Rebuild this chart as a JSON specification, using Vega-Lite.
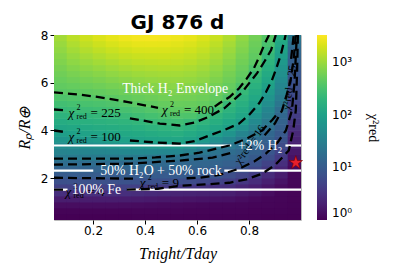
{
"$schema":"https://vega.github.io/schema/vega-lite/v6.json",
"width":247,"height":185,
"padding":{"left":16,"top":13,"right":5,"bottom":5},
"title":{"text":"GJ 876 d","font":"DejaVu Sans","fontSize":20,"fontWeight":"bold","color":"black","offset":-4},
"config":{"view":{"stroke":"#bbbbbb"},
"axis":{"labelFont":"DejaVu Sans","labelFontSize":12,"labelColor":"black","tickColor":"black","tickSize":4,"domain":false,"grid":false,"titleFont":"Liberation Serif","titleFontSize":16,"titleFontStyle":"italic","titleFontWeight":"normal","titleColor":"black"},
"axisX":{"labelPadding":1,"titlePadding":9},"axisY":{"titlePadding":8}},
"datasets":{
"grid":[
{"x":0.075,"y":0.375,"v":1.0},{"x":0.075,"y":0.625,"v":1.07},{"x":0.075,"y":0.875,"v":1.29},{"x":0.075,"y":1.125,"v":1.84},{"x":0.075,"y":1.375,"v":2.93},{"x":0.075,"y":1.625,"v":4.74},{"x":0.075,"y":1.875,"v":7.1},{"x":0.075,"y":2.125,"v":10},{"x":0.075,"y":2.375,"v":13},{"x":0.075,"y":2.625,"v":17.7},{"x":0.075,"y":2.875,"v":26.7},{"x":0.075,"y":3.125,"v":36},{"x":0.075,"y":3.375,"v":49},{"x":0.075,"y":3.625,"v":66},{"x":0.075,"y":3.875,"v":90},{"x":0.075,"y":4.125,"v":116},{"x":0.075,"y":4.375,"v":146},{"x":0.075,"y":4.625,"v":183},{"x":0.075,"y":4.875,"v":230},{"x":0.075,"y":5.125,"v":280},{"x":0.075,"y":5.375,"v":342},{"x":0.075,"y":5.625,"v":409},{"x":0.075,"y":5.875,"v":455},{"x":0.075,"y":6.125,"v":506},{"x":0.075,"y":6.375,"v":562},{"x":0.075,"y":6.625,"v":626},{"x":0.075,"y":6.875,"v":696},{"x":0.075,"y":7.125,"v":774},{"x":0.075,"y":7.375,"v":861},{"x":0.075,"y":7.625,"v":957},{"x":0.075,"y":7.875,"v":1065},
{"x":0.125,"y":0.375,"v":1.0},{"x":0.125,"y":0.625,"v":1.07},{"x":0.125,"y":0.875,"v":1.29},{"x":0.125,"y":1.125,"v":1.84},{"x":0.125,"y":1.375,"v":2.93},{"x":0.125,"y":1.625,"v":4.75},{"x":0.125,"y":1.875,"v":7.2},{"x":0.125,"y":2.125,"v":10.1},{"x":0.125,"y":2.375,"v":13},{"x":0.125,"y":2.625,"v":17.4},{"x":0.125,"y":2.875,"v":26.9},{"x":0.125,"y":3.125,"v":37},{"x":0.125,"y":3.375,"v":51},{"x":0.125,"y":3.625,"v":71},{"x":0.125,"y":3.875,"v":98},{"x":0.125,"y":4.125,"v":124},{"x":0.125,"y":4.375,"v":156},{"x":0.125,"y":4.625,"v":195},{"x":0.125,"y":4.875,"v":243},{"x":0.125,"y":5.125,"v":295},{"x":0.125,"y":5.375,"v":360},{"x":0.125,"y":5.625,"v":425},{"x":0.125,"y":5.875,"v":486},{"x":0.125,"y":6.125,"v":556},{"x":0.125,"y":6.375,"v":635},{"x":0.125,"y":6.625,"v":726},{"x":0.125,"y":6.875,"v":830},{"x":0.125,"y":7.125,"v":948},{"x":0.125,"y":7.375,"v":1084},{"x":0.125,"y":7.625,"v":1239},{"x":0.125,"y":7.875,"v":1416},
{"x":0.175,"y":0.375,"v":1.0},{"x":0.175,"y":0.625,"v":1.07},{"x":0.175,"y":0.875,"v":1.29},{"x":0.175,"y":1.125,"v":1.84},{"x":0.175,"y":1.375,"v":2.93},{"x":0.175,"y":1.625,"v":4.75},{"x":0.175,"y":1.875,"v":7.2},{"x":0.175,"y":2.125,"v":10.1},{"x":0.175,"y":2.375,"v":13},{"x":0.175,"y":2.625,"v":17.4},{"x":0.175,"y":2.875,"v":27},{"x":0.175,"y":3.125,"v":38},{"x":0.175,"y":3.375,"v":54},{"x":0.175,"y":3.625,"v":76},{"x":0.175,"y":3.875,"v":105},{"x":0.175,"y":4.125,"v":132},{"x":0.175,"y":4.375,"v":165},{"x":0.175,"y":4.625,"v":206},{"x":0.175,"y":4.875,"v":254},{"x":0.175,"y":5.125,"v":310},{"x":0.175,"y":5.375,"v":377},{"x":0.175,"y":5.625,"v":445},{"x":0.175,"y":5.875,"v":519},{"x":0.175,"y":6.125,"v":604},{"x":0.175,"y":6.375,"v":705},{"x":0.175,"y":6.625,"v":821},{"x":0.175,"y":6.875,"v":957},{"x":0.175,"y":7.125,"v":1115},{"x":0.175,"y":7.375,"v":1300},{"x":0.175,"y":7.625,"v":1514},{"x":0.175,"y":7.875,"v":1766},
{"x":0.225,"y":0.375,"v":1.0},{"x":0.225,"y":0.625,"v":1.07},{"x":0.225,"y":0.875,"v":1.29},{"x":0.225,"y":1.125,"v":1.84},{"x":0.225,"y":1.375,"v":2.93},{"x":0.225,"y":1.625,"v":4.8},{"x":0.225,"y":1.875,"v":7.3},{"x":0.225,"y":2.125,"v":10.2},{"x":0.225,"y":2.375,"v":13},{"x":0.225,"y":2.625,"v":17.1},{"x":0.225,"y":2.875,"v":27},{"x":0.225,"y":3.125,"v":39},{"x":0.225,"y":3.375,"v":57},{"x":0.225,"y":3.625,"v":83},{"x":0.225,"y":3.875,"v":112},{"x":0.225,"y":4.125,"v":140},{"x":0.225,"y":4.375,"v":175},{"x":0.225,"y":4.625,"v":218},{"x":0.225,"y":4.875,"v":267},{"x":0.225,"y":5.125,"v":324},{"x":0.225,"y":5.375,"v":395},{"x":0.225,"y":5.625,"v":468},{"x":0.225,"y":5.875,"v":553},{"x":0.225,"y":6.125,"v":653},{"x":0.225,"y":6.375,"v":773},{"x":0.225,"y":6.625,"v":914},{"x":0.225,"y":6.875,"v":1080},{"x":0.225,"y":7.125,"v":1276},{"x":0.225,"y":7.375,"v":1508},{"x":0.225,"y":7.625,"v":1782},{"x":0.225,"y":7.875,"v":2108},
{"x":0.275,"y":0.375,"v":1.0},{"x":0.275,"y":0.625,"v":1.07},{"x":0.275,"y":0.875,"v":1.29},{"x":0.275,"y":1.125,"v":1.84},{"x":0.275,"y":1.375,"v":2.93},{"x":0.275,"y":1.625,"v":4.8},{"x":0.275,"y":1.875,"v":7.3},{"x":0.275,"y":2.125,"v":10.2},{"x":0.275,"y":2.375,"v":13},{"x":0.275,"y":2.625,"v":16.8},{"x":0.275,"y":2.875,"v":27.3},{"x":0.275,"y":3.125,"v":41},{"x":0.275,"y":3.375,"v":61},{"x":0.275,"y":3.625,"v":92},{"x":0.275,"y":3.875,"v":119},{"x":0.275,"y":4.125,"v":148},{"x":0.275,"y":4.375,"v":184},{"x":0.275,"y":4.625,"v":230},{"x":0.275,"y":4.875,"v":283},{"x":0.275,"y":5.125,"v":349},{"x":0.275,"y":5.375,"v":424},{"x":0.275,"y":5.625,"v":505},{"x":0.275,"y":5.875,"v":601},{"x":0.275,"y":6.125,"v":715},{"x":0.275,"y":6.375,"v":851},{"x":0.275,"y":6.625,"v":1012},{"x":0.275,"y":6.875,"v":1204},{"x":0.275,"y":7.125,"v":1432},{"x":0.275,"y":7.375,"v":1703},{"x":0.275,"y":7.625,"v":2026},{"x":0.275,"y":7.875,"v":2410},
{"x":0.325,"y":0.375,"v":1.0},{"x":0.325,"y":0.625,"v":1.07},{"x":0.325,"y":0.875,"v":1.29},{"x":0.325,"y":1.125,"v":1.84},{"x":0.325,"y":1.375,"v":2.93},{"x":0.325,"y":1.625,"v":4.8},{"x":0.325,"y":1.875,"v":7.5},{"x":0.325,"y":2.125,"v":10.3},{"x":0.325,"y":2.375,"v":12.9},{"x":0.325,"y":2.625,"v":16.5},{"x":0.325,"y":2.875,"v":27.6},{"x":0.325,"y":3.125,"v":43},{"x":0.325,"y":3.375,"v":66},{"x":0.325,"y":3.625,"v":101},{"x":0.325,"y":3.875,"v":126},{"x":0.325,"y":4.125,"v":157},{"x":0.325,"y":4.375,"v":195},{"x":0.325,"y":4.625,"v":243},{"x":0.325,"y":4.875,"v":304},{"x":0.325,"y":5.125,"v":381},{"x":0.325,"y":5.375,"v":459},{"x":0.325,"y":5.625,"v":548},{"x":0.325,"y":5.875,"v":655},{"x":0.325,"y":6.125,"v":782},{"x":0.325,"y":6.375,"v":933},{"x":0.325,"y":6.625,"v":1114},{"x":0.325,"y":6.875,"v":1330},{"x":0.325,"y":7.125,"v":1588},{"x":0.325,"y":7.375,"v":1896},{"x":0.325,"y":7.625,"v":2263},{"x":0.325,"y":7.875,"v":2700},
{"x":0.375,"y":0.375,"v":1.03},{"x":0.375,"y":0.625,"v":1.09},{"x":0.375,"y":0.875,"v":1.26},{"x":0.375,"y":1.125,"v":1.78},{"x":0.375,"y":1.375,"v":2.78},{"x":0.375,"y":1.625,"v":4.6},{"x":0.375,"y":1.875,"v":7.4},{"x":0.375,"y":2.125,"v":10.2},{"x":0.375,"y":2.375,"v":12.8},{"x":0.375,"y":2.625,"v":15.9},{"x":0.375,"y":2.875,"v":26.8},{"x":0.375,"y":3.125,"v":43},{"x":0.375,"y":3.375,"v":70},{"x":0.375,"y":3.625,"v":106},{"x":0.375,"y":3.875,"v":133},{"x":0.375,"y":4.125,"v":167},{"x":0.375,"y":4.375,"v":210},{"x":0.375,"y":4.625,"v":265},{"x":0.375,"y":4.875,"v":334},{"x":0.375,"y":5.125,"v":416},{"x":0.375,"y":5.375,"v":496},{"x":0.375,"y":5.625,"v":592},{"x":0.375,"y":5.875,"v":706},{"x":0.375,"y":6.125,"v":842},{"x":0.375,"y":6.375,"v":1005},{"x":0.375,"y":6.625,"v":1199},{"x":0.375,"y":6.875,"v":1430},{"x":0.375,"y":7.125,"v":1706},{"x":0.375,"y":7.375,"v":2035},{"x":0.375,"y":7.625,"v":2427},{"x":0.375,"y":7.875,"v":2896},
{"x":0.425,"y":0.375,"v":1.03},{"x":0.425,"y":0.625,"v":1.08},{"x":0.425,"y":0.875,"v":1.23},{"x":0.425,"y":1.125,"v":1.7},{"x":0.425,"y":1.375,"v":2.59},{"x":0.425,"y":1.625,"v":4.3},{"x":0.425,"y":1.875,"v":7.2},{"x":0.425,"y":2.125,"v":10.2},{"x":0.425,"y":2.375,"v":12.6},{"x":0.425,"y":2.625,"v":15.5},{"x":0.425,"y":2.875,"v":25.3},{"x":0.425,"y":3.125,"v":43},{"x":0.425,"y":3.375,"v":72},{"x":0.425,"y":3.625,"v":110},{"x":0.425,"y":3.875,"v":142},{"x":0.425,"y":4.125,"v":183},{"x":0.425,"y":4.375,"v":234},{"x":0.425,"y":4.625,"v":294},{"x":0.425,"y":4.875,"v":370},{"x":0.425,"y":5.125,"v":448},{"x":0.425,"y":5.375,"v":531},{"x":0.425,"y":5.625,"v":629},{"x":0.425,"y":5.875,"v":745},{"x":0.425,"y":6.125,"v":883},{"x":0.425,"y":6.375,"v":1047},{"x":0.425,"y":6.625,"v":1240},{"x":0.425,"y":6.875,"v":1470},{"x":0.425,"y":7.125,"v":1743},{"x":0.425,"y":7.375,"v":2066},{"x":0.425,"y":7.625,"v":2449},{"x":0.425,"y":7.875,"v":2903},
{"x":0.475,"y":0.375,"v":1.03},{"x":0.475,"y":0.625,"v":1.08},{"x":0.475,"y":0.875,"v":1.2},{"x":0.475,"y":1.125,"v":1.63},{"x":0.475,"y":1.375,"v":2.42},{"x":0.475,"y":1.625,"v":3.98},{"x":0.475,"y":1.875,"v":6.95},{"x":0.475,"y":2.125,"v":10},{"x":0.475,"y":2.375,"v":12.3},{"x":0.475,"y":2.625,"v":15.1},{"x":0.475,"y":2.875,"v":23.2},{"x":0.475,"y":3.125,"v":42},{"x":0.475,"y":3.375,"v":76},{"x":0.475,"y":3.625,"v":115},{"x":0.475,"y":3.875,"v":151},{"x":0.475,"y":4.125,"v":197},{"x":0.475,"y":4.375,"v":255},{"x":0.475,"y":4.625,"v":326},{"x":0.475,"y":4.875,"v":412},{"x":0.475,"y":5.125,"v":484},{"x":0.475,"y":5.375,"v":569},{"x":0.475,"y":5.625,"v":668},{"x":0.475,"y":5.875,"v":785},{"x":0.475,"y":6.125,"v":922},{"x":0.475,"y":6.375,"v":1084},{"x":0.475,"y":6.625,"v":1274},{"x":0.475,"y":6.875,"v":1496},{"x":0.475,"y":7.125,"v":1758},{"x":0.475,"y":7.375,"v":2065},{"x":0.475,"y":7.625,"v":2427},{"x":0.475,"y":7.875,"v":2851},
{"x":0.525,"y":0.375,"v":1.03},{"x":0.525,"y":0.625,"v":1.08},{"x":0.525,"y":0.875,"v":1.17},{"x":0.525,"y":1.125,"v":1.57},{"x":0.525,"y":1.375,"v":2.26},{"x":0.525,"y":1.625,"v":3.66},{"x":0.525,"y":1.875,"v":6.6},{"x":0.525,"y":2.125,"v":9.9},{"x":0.525,"y":2.375,"v":12.1},{"x":0.525,"y":2.625,"v":14.7},{"x":0.525,"y":2.875,"v":21.8},{"x":0.525,"y":3.125,"v":41},{"x":0.525,"y":3.375,"v":81},{"x":0.525,"y":3.625,"v":120},{"x":0.525,"y":3.875,"v":157},{"x":0.525,"y":4.125,"v":206},{"x":0.525,"y":4.375,"v":270},{"x":0.525,"y":4.625,"v":356},{"x":0.525,"y":4.875,"v":437},{"x":0.525,"y":5.125,"v":508},{"x":0.525,"y":5.375,"v":590},{"x":0.525,"y":5.625,"v":687},{"x":0.525,"y":5.875,"v":798},{"x":0.525,"y":6.125,"v":929},{"x":0.525,"y":6.375,"v":1081},{"x":0.525,"y":6.625,"v":1256},{"x":0.525,"y":6.875,"v":1462},{"x":0.525,"y":7.125,"v":1700},{"x":0.525,"y":7.375,"v":1977},{"x":0.525,"y":7.625,"v":2300},{"x":0.525,"y":7.875,"v":2673},
{"x":0.575,"y":0.375,"v":1.03},{"x":0.575,"y":0.625,"v":1.07},{"x":0.575,"y":0.875,"v":1.15},{"x":0.575,"y":1.125,"v":1.52},{"x":0.575,"y":1.375,"v":2.18},{"x":0.575,"y":1.625,"v":3.47},{"x":0.575,"y":1.875,"v":6.3},{"x":0.575,"y":2.125,"v":9.8},{"x":0.575,"y":2.375,"v":11.8},{"x":0.575,"y":2.625,"v":14.3},{"x":0.575,"y":2.875,"v":19.1},{"x":0.575,"y":3.125,"v":33},{"x":0.575,"y":3.375,"v":61},{"x":0.575,"y":3.625,"v":106},{"x":0.575,"y":3.875,"v":138},{"x":0.575,"y":4.125,"v":179},{"x":0.575,"y":4.375,"v":237},{"x":0.575,"y":4.625,"v":339},{"x":0.575,"y":4.875,"v":432},{"x":0.575,"y":5.125,"v":500},{"x":0.575,"y":5.375,"v":577},{"x":0.575,"y":5.625,"v":667},{"x":0.575,"y":5.875,"v":771},{"x":0.575,"y":6.125,"v":891},{"x":0.575,"y":6.375,"v":1028},{"x":0.575,"y":6.625,"v":1189},{"x":0.575,"y":6.875,"v":1374},{"x":0.575,"y":7.125,"v":1585},{"x":0.575,"y":7.375,"v":1832},{"x":0.575,"y":7.625,"v":2117},{"x":0.575,"y":7.875,"v":2447},
{"x":0.625,"y":0.375,"v":1.02},{"x":0.625,"y":0.625,"v":1.07},{"x":0.625,"y":0.875,"v":1.13},{"x":0.625,"y":1.125,"v":1.48},{"x":0.625,"y":1.375,"v":2.08},{"x":0.625,"y":1.625,"v":3.23},{"x":0.625,"y":1.875,"v":5.6},{"x":0.625,"y":2.125,"v":9.5},{"x":0.625,"y":2.375,"v":11.5},{"x":0.625,"y":2.625,"v":14},{"x":0.625,"y":2.875,"v":17.8},{"x":0.625,"y":3.125,"v":25.9},{"x":0.625,"y":3.375,"v":46},{"x":0.625,"y":3.625,"v":81},{"x":0.625,"y":3.875,"v":117},{"x":0.625,"y":4.125,"v":152},{"x":0.625,"y":4.375,"v":198},{"x":0.625,"y":4.625,"v":280},{"x":0.625,"y":4.875,"v":410},{"x":0.625,"y":5.125,"v":470},{"x":0.625,"y":5.375,"v":538},{"x":0.625,"y":5.625,"v":617},{"x":0.625,"y":5.875,"v":706},{"x":0.625,"y":6.125,"v":809},{"x":0.625,"y":6.375,"v":927},{"x":0.625,"y":6.625,"v":1062},{"x":0.625,"y":6.875,"v":1216},{"x":0.625,"y":7.125,"v":1393},{"x":0.625,"y":7.375,"v":1594},{"x":0.625,"y":7.625,"v":1826},{"x":0.625,"y":7.875,"v":2091},
{"x":0.675,"y":0.375,"v":1.02},{"x":0.675,"y":0.625,"v":1.07},{"x":0.675,"y":0.875,"v":1.12},{"x":0.675,"y":1.125,"v":1.44},{"x":0.675,"y":1.375,"v":1.99},{"x":0.675,"y":1.625,"v":3.02},{"x":0.675,"y":1.875,"v":4.85},{"x":0.675,"y":2.125,"v":8.05},{"x":0.675,"y":2.375,"v":10.5},{"x":0.675,"y":2.625,"v":12.8},{"x":0.675,"y":2.875,"v":15.6},{"x":0.675,"y":3.125,"v":21.4},{"x":0.675,"y":3.375,"v":33},{"x":0.675,"y":3.625,"v":55},{"x":0.675,"y":3.875,"v":93},{"x":0.675,"y":4.125,"v":123},{"x":0.675,"y":4.375,"v":157},{"x":0.675,"y":4.625,"v":199},{"x":0.675,"y":4.875,"v":278},{"x":0.675,"y":5.125,"v":407},{"x":0.675,"y":5.375,"v":463},{"x":0.675,"y":5.625,"v":526},{"x":0.675,"y":5.875,"v":598},{"x":0.675,"y":6.125,"v":680},{"x":0.675,"y":6.375,"v":773},{"x":0.675,"y":6.625,"v":879},{"x":0.675,"y":6.875,"v":999},{"x":0.675,"y":7.125,"v":1136},{"x":0.675,"y":7.375,"v":1291},{"x":0.675,"y":7.625,"v":1467},{"x":0.675,"y":7.875,"v":1668},
{"x":0.725,"y":0.375,"v":1.02},{"x":0.725,"y":0.625,"v":1.07},{"x":0.725,"y":0.875,"v":1.12},{"x":0.725,"y":1.125,"v":1.41},{"x":0.725,"y":1.375,"v":1.93},{"x":0.725,"y":1.625,"v":2.88},{"x":0.725,"y":1.875,"v":4.44},{"x":0.725,"y":2.125,"v":6.7},{"x":0.725,"y":2.375,"v":9.4},{"x":0.725,"y":2.625,"v":11.4},{"x":0.725,"y":2.875,"v":13.8},{"x":0.725,"y":3.125,"v":17.4},{"x":0.725,"y":3.375,"v":25.2},{"x":0.725,"y":3.625,"v":40},{"x":0.725,"y":3.875,"v":63},{"x":0.725,"y":4.125,"v":99},{"x":0.725,"y":4.375,"v":122},{"x":0.725,"y":4.625,"v":150},{"x":0.725,"y":4.875,"v":184},{"x":0.725,"y":5.125,"v":227},{"x":0.725,"y":5.375,"v":347},{"x":0.725,"y":5.625,"v":432},{"x":0.725,"y":5.875,"v":486},{"x":0.725,"y":6.125,"v":547},{"x":0.725,"y":6.375,"v":615},{"x":0.725,"y":6.625,"v":692},{"x":0.725,"y":6.875,"v":778},{"x":0.725,"y":7.125,"v":875},{"x":0.725,"y":7.375,"v":984},{"x":0.725,"y":7.625,"v":1107},{"x":0.725,"y":7.875,"v":1245},
{"x":0.775,"y":0.375,"v":1.02},{"x":0.775,"y":0.625,"v":1.06},{"x":0.775,"y":0.875,"v":1.1},{"x":0.775,"y":1.125,"v":1.29},{"x":0.775,"y":1.375,"v":1.67},{"x":0.775,"y":1.625,"v":2.31},{"x":0.775,"y":1.875,"v":3.47},{"x":0.775,"y":2.125,"v":5.2},{"x":0.775,"y":2.375,"v":7.6},{"x":0.775,"y":2.625,"v":10},{"x":0.775,"y":2.875,"v":12.2},{"x":0.775,"y":3.125,"v":14.8},{"x":0.775,"y":3.375,"v":18.8},{"x":0.775,"y":3.625,"v":24.9},{"x":0.775,"y":3.875,"v":38},{"x":0.775,"y":4.125,"v":59},{"x":0.775,"y":4.375,"v":91},{"x":0.775,"y":4.625,"v":114},{"x":0.775,"y":4.875,"v":135},{"x":0.775,"y":5.125,"v":160},{"x":0.775,"y":5.375,"v":189},{"x":0.775,"y":5.625,"v":224},{"x":0.775,"y":5.875,"v":345},{"x":0.775,"y":6.125,"v":427},{"x":0.775,"y":6.375,"v":471},{"x":0.775,"y":6.625,"v":519},{"x":0.775,"y":6.875,"v":573},{"x":0.775,"y":7.125,"v":632},{"x":0.775,"y":7.375,"v":697},{"x":0.775,"y":7.625,"v":769},{"x":0.775,"y":7.875,"v":849},
{"x":0.825,"y":0.375,"v":1.02},{"x":0.825,"y":0.625,"v":1.05},{"x":0.825,"y":0.875,"v":1.09},{"x":0.825,"y":1.125,"v":1.19},{"x":0.825,"y":1.375,"v":1.49},{"x":0.825,"y":1.625,"v":1.98},{"x":0.825,"y":1.875,"v":2.79},{"x":0.825,"y":2.125,"v":4.07},{"x":0.825,"y":2.375,"v":5.5},{"x":0.825,"y":2.625,"v":7.4},{"x":0.825,"y":2.875,"v":9.6},{"x":0.825,"y":3.125,"v":11.6},{"x":0.825,"y":3.375,"v":13.9},{"x":0.825,"y":3.625,"v":17.5},{"x":0.825,"y":3.875,"v":24.8},{"x":0.825,"y":4.125,"v":34},{"x":0.825,"y":4.375,"v":46},{"x":0.825,"y":4.625,"v":63},{"x":0.825,"y":4.875,"v":87},{"x":0.825,"y":5.125,"v":109},{"x":0.825,"y":5.375,"v":127},{"x":0.825,"y":5.625,"v":147},{"x":0.825,"y":5.875,"v":171},{"x":0.825,"y":6.125,"v":200},{"x":0.825,"y":6.375,"v":242},{"x":0.825,"y":6.625,"v":335},{"x":0.825,"y":6.875,"v":415},{"x":0.825,"y":7.125,"v":451},{"x":0.825,"y":7.375,"v":490},{"x":0.825,"y":7.625,"v":532},{"x":0.825,"y":7.875,"v":578},
{"x":0.875,"y":0.375,"v":1.01},{"x":0.875,"y":0.625,"v":1.04},{"x":0.875,"y":0.875,"v":1.08},{"x":0.875,"y":1.125,"v":1.11},{"x":0.875,"y":1.375,"v":1.27},{"x":0.875,"y":1.625,"v":1.55},{"x":0.875,"y":1.875,"v":1.99},{"x":0.875,"y":2.125,"v":2.67},{"x":0.875,"y":2.375,"v":3.72},{"x":0.875,"y":2.625,"v":4.97},{"x":0.875,"y":2.875,"v":6.6},{"x":0.875,"y":3.125,"v":8.65},{"x":0.875,"y":3.375,"v":10.4},{"x":0.875,"y":3.625,"v":12.2},{"x":0.875,"y":3.875,"v":14.4},{"x":0.875,"y":4.125,"v":18.5},{"x":0.875,"y":4.375,"v":26.3},{"x":0.875,"y":4.625,"v":33},{"x":0.875,"y":4.875,"v":41},{"x":0.875,"y":5.125,"v":52},{"x":0.875,"y":5.375,"v":65},{"x":0.875,"y":5.625,"v":81},{"x":0.875,"y":5.875,"v":102},{"x":0.875,"y":6.125,"v":118},{"x":0.875,"y":6.375,"v":137},{"x":0.875,"y":6.625,"v":160},{"x":0.875,"y":6.875,"v":186},{"x":0.875,"y":7.125,"v":216},{"x":0.875,"y":7.375,"v":260},{"x":0.875,"y":7.625,"v":316},{"x":0.875,"y":7.875,"v":383},
{"x":0.925,"y":0.375,"v":1.01},{"x":0.925,"y":0.625,"v":1.04},{"x":0.925,"y":0.875,"v":1.06},{"x":0.925,"y":1.125,"v":1.09},{"x":0.925,"y":1.375,"v":1.11},{"x":0.925,"y":1.625,"v":1.26},{"x":0.925,"y":1.875,"v":1.48},{"x":0.925,"y":2.125,"v":1.81},{"x":0.925,"y":2.375,"v":2.23},{"x":0.925,"y":2.625,"v":2.94},{"x":0.925,"y":2.875,"v":3.89},{"x":0.925,"y":3.125,"v":4.91},{"x":0.925,"y":3.375,"v":6.2},{"x":0.925,"y":3.625,"v":7.7},{"x":0.925,"y":3.875,"v":9.4},{"x":0.925,"y":4.125,"v":10.9},{"x":0.925,"y":4.375,"v":12.5},{"x":0.925,"y":4.625,"v":14.4},{"x":0.925,"y":4.875,"v":17.3},{"x":0.925,"y":5.125,"v":23.7},{"x":0.925,"y":5.375,"v":28.6},{"x":0.925,"y":5.625,"v":34},{"x":0.925,"y":5.875,"v":40},{"x":0.925,"y":6.125,"v":47},{"x":0.925,"y":6.375,"v":55},{"x":0.925,"y":6.625,"v":65},{"x":0.925,"y":6.875,"v":76},{"x":0.925,"y":7.125,"v":90},{"x":0.925,"y":7.375,"v":106},{"x":0.925,"y":7.625,"v":124},{"x":0.925,"y":7.875,"v":146},
{"x":0.975,"y":0.375,"v":1.01},{"x":0.975,"y":0.625,"v":1.02},{"x":0.975,"y":0.875,"v":1.04},{"x":0.975,"y":1.125,"v":1.05},{"x":0.975,"y":1.375,"v":1.07},{"x":0.975,"y":1.625,"v":1.08},{"x":0.975,"y":1.875,"v":1.1},{"x":0.975,"y":2.125,"v":1.11},{"x":0.975,"y":2.375,"v":1.17},{"x":0.975,"y":2.625,"v":1.29},{"x":0.975,"y":2.875,"v":1.44},{"x":0.975,"y":3.125,"v":1.63},{"x":0.975,"y":3.375,"v":1.86},{"x":0.975,"y":3.625,"v":2.13},{"x":0.975,"y":3.875,"v":2.51},{"x":0.975,"y":4.125,"v":3.0},{"x":0.975,"y":4.375,"v":3.58},{"x":0.975,"y":4.625,"v":4.16},{"x":0.975,"y":4.875,"v":4.61},{"x":0.975,"y":5.125,"v":5.1},{"x":0.975,"y":5.375,"v":5.66},{"x":0.975,"y":5.625,"v":6.3},{"x":0.975,"y":5.875,"v":6.95},{"x":0.975,"y":6.125,"v":7.7},{"x":0.975,"y":6.375,"v":8.55},{"x":0.975,"y":6.625,"v":9.7},{"x":0.975,"y":6.875,"v":11.1},{"x":0.975,"y":7.125,"v":12.8},{"x":0.975,"y":7.375,"v":14.7},{"x":0.975,"y":7.625,"v":18.1},{"x":0.975,"y":7.875,"v":25}
],
"cont":[
{"s":"400a","x":0.05,"y":5.6},{"s":"400a","x":0.15,"y":5.5},{"s":"400a","x":0.228,"y":5.39},{"s":"400a","x":0.33,"y":5.2},{"s":"400a","x":0.45,"y":4.95},
{"s":"400b","x":0.668,"y":5.0},{"s":"400b","x":0.686,"y":5.14},{"s":"400b","x":0.725,"y":5.4},{"s":"400b","x":0.762,"y":5.77},{"s":"400b","x":0.79,"y":6.15},{"s":"400b","x":0.819,"y":6.61},{"s":"400b","x":0.84,"y":7.1},{"s":"400b","x":0.858,"y":7.58},{"s":"400b","x":0.877,"y":8.0},
{"s":"225a","x":0.05,"y":4.88},{"s":"225a","x":0.095,"y":4.85},
{"s":"225b","x":0.342,"y":4.51},{"s":"225b","x":0.4,"y":4.4},{"s":"225b","x":0.457,"y":4.29},{"s":"225b","x":0.533,"y":4.21},{"s":"225b","x":0.59,"y":4.33},{"s":"225b","x":0.64,"y":4.55},{"s":"225b","x":0.705,"y":4.93},{"s":"225b","x":0.77,"y":5.56},{"s":"225b","x":0.831,"y":6.4},{"s":"225b","x":0.86,"y":6.9},{"s":"225b","x":0.885,"y":7.37},{"s":"225b","x":0.903,"y":8.0},
{"s":"100a","x":0.05,"y":4.0},{"s":"100a","x":0.095,"y":3.93},
{"s":"100b","x":0.342,"y":3.58},{"s":"100b","x":0.44,"y":3.5},{"s":"100b","x":0.533,"y":3.45},{"s":"100b","x":0.59,"y":3.55},{"s":"100b","x":0.648,"y":3.79},{"s":"100b","x":0.705,"y":4.02},{"s":"100b","x":0.762,"y":4.29},{"s":"100b","x":0.8,"y":4.65},{"s":"100b","x":0.839,"y":5.14},{"s":"100b","x":0.865,"y":5.6},{"s":"100b","x":0.888,"y":6.1},{"s":"100b","x":0.905,"y":6.6},{"s":"100b","x":0.922,"y":7.16},{"s":"100b","x":0.941,"y":8.0},
{"s":"25a","x":0.05,"y":2.82},{"s":"25a","x":0.2,"y":2.82},{"s":"25a","x":0.342,"y":2.82},{"s":"25a","x":0.44,"y":2.87},{"s":"25a","x":0.533,"y":2.95},{"s":"25a","x":0.61,"y":3.07},{"s":"25a","x":0.724,"y":3.37},{"s":"25a","x":0.79,"y":3.65},{"s":"25a","x":0.85,"y":4.0},{"s":"25a","x":0.89,"y":4.45},{"s":"25a","x":0.905,"y":4.65},
{"s":"25b","x":0.962,"y":7.0},{"s":"25b","x":0.972,"y":8.0},
{"s":"16a","x":0.05,"y":2.57},{"s":"16a","x":0.2,"y":2.59},{"s":"16a","x":0.342,"y":2.61},{"s":"16a","x":0.533,"y":2.74},{"s":"16a","x":0.66,"y":2.86},{"s":"16a","x":0.745,"y":3.1},
{"s":"16b","x":0.86,"y":3.8},{"s":"16b","x":0.9,"y":4.3},{"s":"16b","x":0.927,"y":4.84},{"s":"16b","x":0.945,"y":5.5},{"s":"16b","x":0.96,"y":6.1},{"s":"16b","x":0.972,"y":7.0},{"s":"16b","x":0.98,"y":8.0},
{"s":"9a","x":0.05,"y":2.02},{"s":"9a","x":0.2,"y":2.0},{"s":"9a","x":0.36,"y":1.98},
{"s":"9b","x":0.56,"y":2.0},{"s":"9b","x":0.61,"y":2.02},{"s":"9b","x":0.69,"y":2.15},{"s":"9b","x":0.762,"y":2.4},{"s":"9b","x":0.82,"y":2.7},{"s":"9b","x":0.865,"y":3.03},{"s":"9b","x":0.91,"y":3.5},{"s":"9b","x":0.942,"y":4.0},{"s":"9b","x":0.965,"y":4.84},{"s":"9b","x":0.975,"y":6.0},{"s":"9b","x":0.984,"y":8.0},
{"s":"4a","x":0.05,"y":1.52},{"s":"4a","x":0.088,"y":1.52},
{"s":"4b","x":0.33,"y":1.52},{"s":"4b","x":0.45,"y":1.56},{"s":"4b","x":0.533,"y":1.68},{"s":"4b","x":0.63,"y":1.74},{"s":"4b","x":0.724,"y":1.81},{"s":"4b","x":0.79,"y":1.95},{"s":"4b","x":0.85,"y":2.19},{"s":"4b","x":0.9,"y":2.55},{"s":"4b","x":0.953,"y":3.16},{"s":"4b","x":0.97,"y":4.0},{"s":"4b","x":0.98,"y":4.84},{"s":"4b","x":0.985,"y":6.5},{"s":"4b","x":0.988,"y":8.0}
],
"wl":[
{"x":0.05,"x2":0.732,"y":3.37},{"x":0.94,"x2":1.0,"y":3.37},
{"x":0.05,"x2":0.201,"y":2.32},{"x":0.705,"x2":1.0,"y":2.32},
{"x":0.05,"x2":0.102,"y":1.52},{"x":0.331,"x2":1.0,"y":1.52}
],
"wt":[
{"x":0.516,"y":5.73,"t":"Thick H₂ Envelope"},
{"x":0.843,"y":3.35,"t":"+2% H₂"},
{"x":0.461,"y":2.32,"t":"50% H₂O + 50% rock"},
{"x":0.213,"y":1.52,"t":"100% Fe"}
],
"cl":[
{"x":0.106,"y":4.72,"n":"= 225"},
{"x":0.465,"y":4.84,"n":"= 400"},
{"x":0.106,"y":3.71,"n":"= 100"},
{"x":0.38,"y":1.81,"n":"= 9"},
{"x":0.094,"y":1.43,"n":"= 4"}
]
},
"layer":[
{"data":{"name":"grid"},"mark":{"type":"rect","width":13.6,"height":6.6,"clip":true},
"encoding":{
"x":{"field":"x","type":"quantitative","scale":{"domain":[0.05,1.0],"nice":false,"zero":false},"axis":{"values":[0.2,0.4,0.6,0.8],"title":"Tnight/Tday"}},
"y":{"field":"y","type":"quantitative","scale":{"domain":[0.25,8],"nice":false,"zero":false},"axis":{"values":[2,4,6,8],"title":"Rₚ/R⊕"}},
"color":{"field":"v","type":"quantitative","scale":{"type":"log","domain":[1,3250],"scheme":"viridis"},
"legend":{"orient":"right","offset":16,"gradientLength":185,"gradientThickness":10,"gradientStrokeWidth":0,"values":[1,10,100,1000],"labelExpr":"datum.value == 1 ? '10⁰' : datum.value == 10 ? '10¹' : datum.value == 100 ? '10²' : '10³'","labelFont":"DejaVu Sans","labelFontSize":12,"labelColor":"black","labelOffset":5,"title":"χ²red","titleOrient":"right","titleFont":"Liberation Serif","titleFontSize":14,"titleFontWeight":"normal","titleColor":"black","titlePadding":14}}}},
{"data":{"name":"wl"},"mark":{"type":"rule","color":"white","strokeWidth":2.2},
"encoding":{"x":{"field":"x","type":"quantitative"},"x2":{"field":"x2"},"y":{"field":"y","type":"quantitative"}}},
{"data":{"name":"cont"},"mark":{"type":"line","color":"black","strokeWidth":2.3,"strokeDash":[9,5],"clip":true},
"encoding":{"x":{"field":"x","type":"quantitative"},"y":{"field":"y","type":"quantitative"},"detail":{"field":"s","type":"nominal"}}},
{"data":{"name":"cl"},"mark":{"type":"text","text":"χ","align":"left","baseline":"middle","font":"Liberation Serif","fontSize":13,"fontStyle":"italic","color":"black"},
"encoding":{"x":{"field":"x","type":"quantitative"},"y":{"field":"y","type":"quantitative"}}},
{"data":{"name":"cl"},"mark":{"type":"text","text":"2","align":"left","baseline":"middle","font":"Liberation Serif","fontSize":8,"dx":8,"dy":-5,"color":"black"},
"encoding":{"x":{"field":"x","type":"quantitative"},"y":{"field":"y","type":"quantitative"}}},
{"data":{"name":"cl"},"mark":{"type":"text","text":"red","align":"left","baseline":"middle","font":"Liberation Serif","fontSize":8,"dx":8,"dy":4,"color":"black"},
"encoding":{"x":{"field":"x","type":"quantitative"},"y":{"field":"y","type":"quantitative"}}},
{"data":{"name":"cl"},"mark":{"type":"text","align":"left","baseline":"middle","font":"Liberation Serif","fontSize":13,"dx":22,"color":"black"},
"encoding":{"x":{"field":"x","type":"quantitative"},"y":{"field":"y","type":"quantitative"},"text":{"field":"n"}}},
{"data":{"values":[{"x":0.957,"y":5.8,"t":"χ²red = 25"}]},"mark":{"type":"text","angle":-82,"align":"center","baseline":"middle","font":"Liberation Serif","fontSize":11,"color":"black"},
"encoding":{"x":{"field":"x","type":"quantitative"},"y":{"field":"y","type":"quantitative"},"text":{"field":"t"}}},
{"data":{"values":[{"x":0.805,"y":3.4,"t":"χ²red = 16"}]},"mark":{"type":"text","angle":-55,"align":"center","baseline":"middle","font":"Liberation Serif","fontSize":11,"color":"black"},
"encoding":{"x":{"field":"x","type":"quantitative"},"y":{"field":"y","type":"quantitative"},"text":{"field":"t"}}},
{"data":{"name":"wt"},"mark":{"type":"text","align":"center","baseline":"middle","font":"Liberation Serif","fontSize":13.8,"color":"white"},
"encoding":{"x":{"field":"x","type":"quantitative"},"y":{"field":"y","type":"quantitative"},"text":{"field":"t"}}},
{"data":{"values":[{"x":0.98,"y":2.65}]},"mark":{"type":"point","shape":"M0,-1L0.2245,-0.309L0.951,-0.309L0.363,0.118L0.588,0.809L0,0.382L-0.588,0.809L-0.363,0.118L-0.951,-0.309L-0.2245,-0.309Z","size":200,"filled":true,"fill":"#e8202a","stroke":"#7a0000","strokeWidth":0.6,"opacity":1},
"encoding":{"x":{"field":"x","type":"quantitative"},"y":{"field":"y","type":"quantitative"}}}
]
}
